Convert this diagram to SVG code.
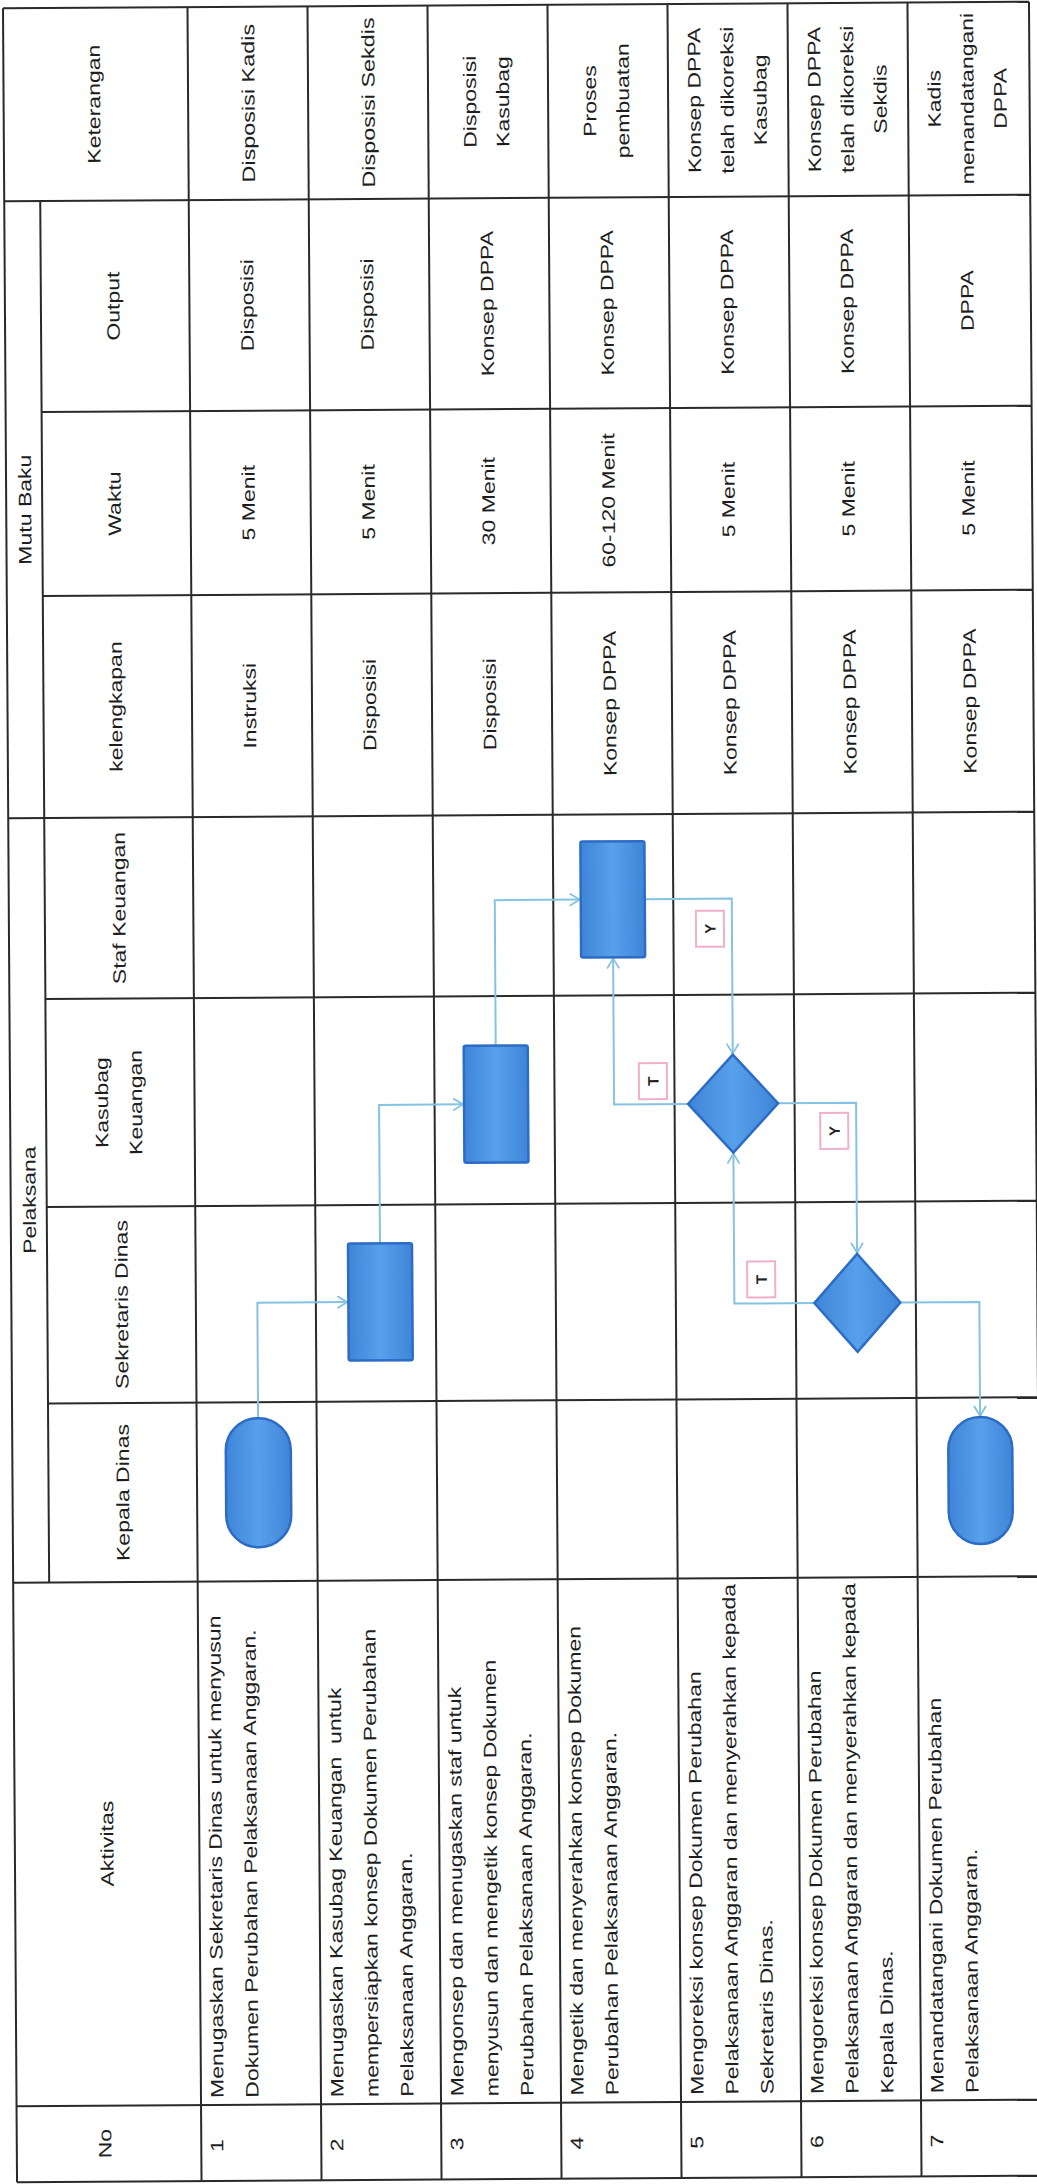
<svg xmlns="http://www.w3.org/2000/svg" width="1037" height="2184" viewBox="0 0 1037 2184">
<defs>
<style>
.ln{stroke:#2a2a2a;stroke-width:2;fill:none}
.t{font-family:"Liberation Sans",Arial,sans-serif;font-size:18px;fill:#1e1e1e}
.c{text-anchor:middle;dominant-baseline:central}
.s{dominant-baseline:central}
.shape{fill:url(#g);stroke:#2d6cc6;stroke-width:2.5}
.conn{stroke:#86c3e2;stroke-width:2;fill:none;marker-end:url(#arr)}
.lbl{fill:#fff;stroke:#f0b0cc;stroke-width:2}
.lt{font-family:"Liberation Sans",Arial,sans-serif;font-size:15px;font-weight:bold;fill:#222;text-anchor:middle;dominant-baseline:central}
</style>
<linearGradient id="g" x1="0" y1="0" x2="1" y2="0">
<stop offset="0" stop-color="#3f85d8"/>
<stop offset="0.5" stop-color="#57a0ea"/>
<stop offset="1" stop-color="#3f85d8"/>
</linearGradient>
<marker id="arr" markerUnits="userSpaceOnUse" markerWidth="14" markerHeight="14" refX="11" refY="7" orient="auto">
<path d="M1,1 L11,7 L1,13" fill="none" stroke="#86c3e2" stroke-width="1.8"/>
</marker>
</defs>
<rect x="0" y="0" width="1037" height="2184" fill="#fff"/>
<g transform="rotate(-0.37 518 1092)">
<g id="grid" class="ln">
<line x1="10" y1="5" x2="1036" y2="5"/>
<line x1="10" y1="198" x2="1036" y2="198"/>
<line x1="46" y1="409" x2="1036" y2="409"/>
<line x1="46" y1="593" x2="1036" y2="593"/>
<line x1="10" y1="815" x2="1036" y2="815"/>
<line x1="46" y1="996" x2="1036" y2="996"/>
<line x1="46" y1="1204" x2="1036" y2="1204"/>
<line x1="46" y1="1400.5" x2="1036" y2="1400.5"/>
<line x1="10" y1="1579.5" x2="1036" y2="1579.5"/>
<line x1="10" y1="2103" x2="1036" y2="2103"/>
<line x1="10" y1="2179" x2="1036" y2="2179"/>
<line x1="10" y1="5" x2="10" y2="2179"/>
<line x1="46" y1="198" x2="46" y2="1579.5"/>
<line x1="194.5" y1="5" x2="194.5" y2="2179"/>
<line x1="314.5" y1="5" x2="314.5" y2="2179"/>
<line x1="434.5" y1="5" x2="434.5" y2="2179"/>
<line x1="554.5" y1="5" x2="554.5" y2="2179"/>
<line x1="674.5" y1="5" x2="674.5" y2="2179"/>
<line x1="794.5" y1="5" x2="794.5" y2="2179"/>
<line x1="914.5" y1="5" x2="914.5" y2="2179"/>
<line x1="1036" y1="5" x2="1036" y2="2179"/>
</g>
<g id="headers">
<text class="t c" transform="translate(100 101.5) rotate(-90) scale(1.28 1)">Keterangan</text>
<text class="t c" transform="translate(118 303.5) rotate(-90) scale(1.28 1)">Output</text>
<text class="t c" transform="translate(118 501) rotate(-90) scale(1.28 1)">Waktu</text>
<text class="t c" transform="translate(118 704) rotate(-90) scale(1.28 1)">kelengkapan</text>
<text class="t c" transform="translate(120 905.5) rotate(-90) scale(1.28 1)">Staf Keuangan</text>
<text class="t c" transform="translate(118 1100) rotate(-90) scale(1.28 1)"><tspan x="0" dy="-17">Kasubag</tspan><tspan x="0" dy="34">Keuangan</tspan></text>
<text class="t c" transform="translate(120 1302) rotate(-90) scale(1.28 1)">Sekretaris Dinas</text>
<text class="t c" transform="translate(120 1490) rotate(-90) scale(1.28 1)">Kepala Dinas</text>
<text class="t c" transform="translate(102 1841) rotate(-90) scale(1.28 1)">Aktivitas</text>
<text class="t c" transform="translate(98 2141) rotate(-90) scale(1.28 1)">No</text>
<text class="t c" transform="translate(28.5 506.5) rotate(-90) scale(1.28 1)">Mutu Baku</text>
<text class="t c" transform="translate(28.5 1197) rotate(-90) scale(1.28 1)">Pelaksana</text>
</g>
<g id="keterangan">
<text class="t c" transform="translate(254.5 101.5) rotate(-90) scale(1.3 1)">Disposisi Kadis</text>
<text class="t c" transform="translate(374.5 101.5) rotate(-90) scale(1.3 1)">Disposisi Sekdis</text>
<text class="t c" transform="translate(492 101.5) rotate(-90) scale(1.28 1)"><tspan x="0" dy="-16.5">Disposisi</tspan><tspan x="0" dy="33">Kasubag</tspan></text>
<text class="t c" transform="translate(612 101.5) rotate(-90) scale(1.28 1)"><tspan x="0" dy="-16.5">Proses</tspan><tspan x="0" dy="33">pembuatan</tspan></text>
<text class="t c" transform="translate(733 101.5) rotate(-90) scale(1.28 1)"><tspan x="0" dy="-33">Konsep DPPA</tspan><tspan x="0" dy="33">telah dikoreksi</tspan><tspan x="0" dy="33">Kasubag</tspan></text>
<text class="t c" transform="translate(853 101.5) rotate(-90) scale(1.28 1)"><tspan x="0" dy="-33">Konsep DPPA</tspan><tspan x="0" dy="33">telah dikoreksi</tspan><tspan x="0" dy="33">Sekdis</tspan></text>
<text class="t c" transform="translate(973 101.5) rotate(-90) scale(1.28 1)"><tspan x="0" dy="-33">Kadis</tspan><tspan x="0" dy="33">menandatangani</tspan><tspan x="0" dy="33">DPPA</tspan></text>
</g>
<g id="output">
<text class="t c" transform="translate(252 303.5) rotate(-90) scale(1.28 1)">Disposisi</text>
<text class="t c" transform="translate(372 303.5) rotate(-90) scale(1.28 1)">Disposisi</text>
<text class="t c" transform="translate(492 303.5) rotate(-90) scale(1.28 1)">Konsep DPPA</text>
<text class="t c" transform="translate(612 303.5) rotate(-90) scale(1.28 1)">Konsep DPPA</text>
<text class="t c" transform="translate(732 303.5) rotate(-90) scale(1.28 1)">Konsep DPPA</text>
<text class="t c" transform="translate(852 303.5) rotate(-90) scale(1.28 1)">Konsep DPPA</text>
<text class="t c" transform="translate(972 303.5) rotate(-90) scale(1.28 1)">DPPA</text>
</g>
<g id="waktu">
<text class="t c" transform="translate(252 501) rotate(-90) scale(1.28 1)">5 Menit</text>
<text class="t c" transform="translate(372 501) rotate(-90) scale(1.28 1)">5 Menit</text>
<text class="t c" transform="translate(492 501) rotate(-90) scale(1.28 1)">30 Menit</text>
<text class="t c" transform="translate(612 501) rotate(-90) scale(1.28 1)">60-120 Menit</text>
<text class="t c" transform="translate(732 501) rotate(-90) scale(1.28 1)">5 Menit</text>
<text class="t c" transform="translate(852 501) rotate(-90) scale(1.28 1)">5 Menit</text>
<text class="t c" transform="translate(972 501) rotate(-90) scale(1.28 1)">5 Menit</text>
</g>
<g id="kelengkapan">
<text class="t c" transform="translate(252 704) rotate(-90) scale(1.28 1)">Instruksi</text>
<text class="t c" transform="translate(372 704) rotate(-90) scale(1.28 1)">Disposisi</text>
<text class="t c" transform="translate(492 704) rotate(-90) scale(1.28 1)">Disposisi</text>
<text class="t c" transform="translate(612 704) rotate(-90) scale(1.28 1)">Konsep DPPA</text>
<text class="t c" transform="translate(732 704) rotate(-90) scale(1.28 1)">Konsep DPPA</text>
<text class="t c" transform="translate(852 704) rotate(-90) scale(1.28 1)">Konsep DPPA</text>
<text class="t c" transform="translate(972 704) rotate(-90) scale(1.28 1)">Konsep DPPA</text>
</g>
<g id="aktivitas">
<text class="t s" transform="translate(210 2096) rotate(-90) scale(1.28 1)"><tspan x="0" dy="0">Menugaskan Sekretaris Dinas untuk menyusun</tspan><tspan x="0" dy="35">Dokumen Perubahan Pelaksanaan Anggaran.</tspan></text>
<text class="t s" transform="translate(330 2096) rotate(-90) scale(1.28 1)" xml:space="preserve"><tspan x="0" dy="0">Menugaskan Kasubag Keuangan  untuk</tspan><tspan x="0" dy="35">mempersiapkan konsep Dokumen Perubahan</tspan><tspan x="0" dy="35">Pelaksanaan Anggaran.</tspan></text>
<text class="t s" transform="translate(450 2096) rotate(-90) scale(1.28 1)"><tspan x="0" dy="0">Mengonsep dan menugaskan staf untuk</tspan><tspan x="0" dy="35">menyusun dan mengetik konsep Dokumen</tspan><tspan x="0" dy="35">Perubahan Pelaksanaan Anggaran.</tspan></text>
<text class="t s" transform="translate(570 2096) rotate(-90) scale(1.28 1)"><tspan x="0" dy="0">Mengetik dan menyerahkan konsep Dokumen</tspan><tspan x="0" dy="35">Perubahan Pelaksanaan Anggaran.</tspan></text>
<text class="t s" transform="translate(690 2096) rotate(-90) scale(1.28 1)"><tspan x="0" dy="0">Mengoreksi konsep Dokumen Perubahan</tspan><tspan x="0" dy="35">Pelaksanaan Anggaran dan menyerahkan kepada</tspan><tspan x="0" dy="35">Sekretaris Dinas.</tspan></text>
<text class="t s" transform="translate(810 2096) rotate(-90) scale(1.28 1)"><tspan x="0" dy="0">Mengoreksi konsep Dokumen Perubahan</tspan><tspan x="0" dy="35">Pelaksanaan Anggaran dan menyerahkan kepada</tspan><tspan x="0" dy="35">Kepala Dinas.</tspan></text>
<text class="t s" transform="translate(930 2096) rotate(-90) scale(1.28 1)"><tspan x="0" dy="0">Menandatangani Dokumen Perubahan</tspan><tspan x="0" dy="35">Pelaksanaan Anggaran.</tspan></text>
</g>
<g id="nomor">
<text class="t s" transform="translate(210 2150) rotate(-90) scale(1.28 1)">1</text>
<text class="t s" transform="translate(330 2150) rotate(-90) scale(1.28 1)">2</text>
<text class="t s" transform="translate(450 2150) rotate(-90) scale(1.28 1)">3</text>
<text class="t s" transform="translate(570 2150) rotate(-90) scale(1.28 1)">4</text>
<text class="t s" transform="translate(690 2150) rotate(-90) scale(1.28 1)">5</text>
<text class="t s" transform="translate(810 2150) rotate(-90) scale(1.28 1)">6</text>
<text class="t s" transform="translate(930 2150) rotate(-90) scale(1.28 1)">7</text>
</g>
<g id="connectors">
<path class="conn" d="M256,1416.5 V1301 H346"/>
<path class="conn" d="M379,1242.5 V1104 H463"/>
<path class="conn" d="M496,1045.5 V900 H581"/>
<path class="conn" d="M646,900 H733 V1055"/>
<path class="conn" d="M688,1105 H614 V959"/>
<path class="conn" d="M778,1105 H856 V1255"/>
<path class="conn" d="M813,1305 H733 V1155"/>
<path class="conn" d="M899,1305 H978 V1419"/>
</g>
<g id="labels">
<g id="label-y1"><rect class="lbl" x="697" y="912" width="28" height="36"/><text class="lt" transform="translate(711 930) rotate(-90)">Y</text></g>
<g id="label-t1"><rect class="lbl" x="639" y="1064" width="28" height="36"/><text class="lt" transform="translate(653 1082) rotate(-90)">T</text></g>
<g id="label-y2"><rect class="lbl" x="820" y="1115" width="28" height="36"/><text class="lt" transform="translate(834 1133) rotate(-90)">Y</text></g>
<g id="label-t2"><rect class="lbl" x="746" y="1263" width="28" height="36"/><text class="lt" transform="translate(760 1281) rotate(-90)">T</text></g>
</g>
<g id="start-kepala"><rect class="shape" x="223.5" y="1416.5" width="65" height="129" rx="32" ry="32"/></g>
<g id="sekretaris-proses"><rect class="shape" x="347" y="1242.5" width="64" height="117" rx="2"/></g>
<g id="kasubag-proses"><rect class="shape" x="464" y="1045.5" width="64" height="117" rx="2"/></g>
<g id="staf-proses"><rect class="shape" x="582" y="842" width="64" height="116" rx="2"/></g>
<g id="kasubag-keputusan"><polygon class="shape" points="733,1056 778,1105 733,1154 688,1105"/></g>
<g id="sekretaris-keputusan"><polygon class="shape" points="856,1256 899,1305 856,1354 813,1305"/></g>
<g id="end-kepala"><rect class="shape" x="946" y="1420" width="64" height="127" rx="32" ry="32"/></g>
</g>
</svg>
